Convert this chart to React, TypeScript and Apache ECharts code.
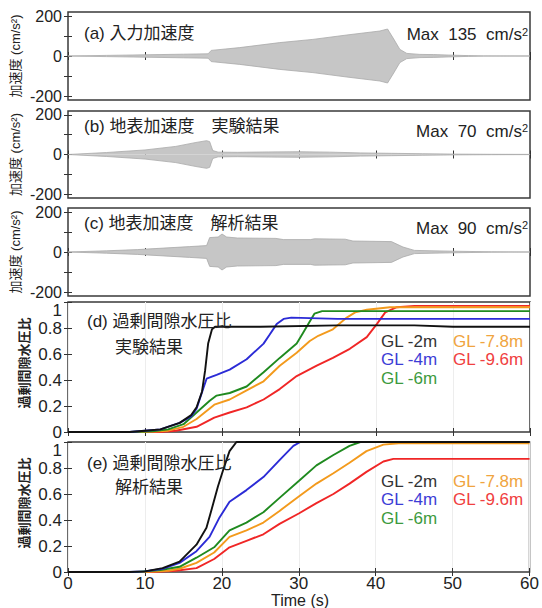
import React, { useEffect, useRef } from "react";
import * as echarts from "echarts";

// ---------- data ----------
const timeTicks = [0, 10, 20, 30, 40, 50, 60];
const accLabelTicks = [-200, 0, 200];
const accMinorTicks = [-200, -100, 0, 100, 200];
const ppTicks = [0, 0.2, 0.4, 0.6, 0.8, 1];

// (a) input acceleration envelope (cm/s^2)
const accATime = [0, 5, 10, 15, 18.2, 18.6, 22.3, 27.5, 31.8, 36.2, 40.5, 41.5, 42.3, 43.1, 44, 45.7, 47.5, 50, 52, 54, 60];
const accAEnv = [0, 3, 6, 9, 11, 28, 42, 67, 83, 105, 125, 135, 85, 33, 13, 8, 7, 4, 2, 0.5, 0];

// (b) ground surface acceleration, experiment
const accBTime = [0, 5, 10, 14, 16.5, 18, 18.4, 18.8, 19.5, 22, 26, 30, 34, 38, 42, 46, 50, 55, 60];
const accBEnv = [0, 10, 23, 41, 60, 70, 65, 20, 12, 11, 13, 14, 12, 8, 6, 4, 2, 1, 0.5];

// (c) ground surface acceleration, analysis
const accCTime = [0, 5, 9, 15.8, 18, 18.4, 19.5, 20, 20.6, 22, 27, 28, 31.5, 32, 36, 37, 42, 43.5, 45, 50, 55, 60];
const accCEnv = [0, 6, 12, 27, 32, 72, 75, 90, 75, 70, 68, 62, 62, 66, 64, 55, 52, 25, 8, 4, 1, 0];

// (d) excess pore water pressure ratio, experiment
const expGL2T = [0, 8, 10, 12, 14.5, 16, 16.7, 17.4, 17.8, 18.2, 18.7, 19.1, 25, 35, 45, 50, 60];
const expGL2V = [0, 0, 0.01, 0.02, 0.07, 0.13, 0.19, 0.31, 0.47, 0.68, 0.79, 0.81, 0.81, 0.82, 0.82, 0.81, 0.81];
const expGL4T = [0, 8, 10, 12, 14.5, 16, 16.7, 17.6, 18, 19.3, 21, 23.2, 25.4, 26.2, 27.1, 28, 29, 35, 45, 60];
const expGL4V = [0, 0, 0.01, 0.02, 0.07, 0.12, 0.18, 0.34, 0.41, 0.44, 0.48, 0.56, 0.68, 0.75, 0.83, 0.87, 0.88, 0.87, 0.87, 0.87];
const expGL6T = [0, 8, 11, 13, 15, 16.7, 18.4, 19.3, 21, 23.2, 25.4, 27.5, 29.7, 30.5, 31.3, 32, 33, 40, 60];
const expGL6V = [0, 0, 0.005, 0.02, 0.06, 0.15, 0.24, 0.28, 0.3, 0.35, 0.46, 0.57, 0.68, 0.76, 0.84, 0.91, 0.93, 0.93, 0.93];
const expGL78T = [0, 10, 13, 15, 16.7, 19, 21, 23.2, 25.4, 27.5, 29.7, 31.4, 32.5, 34.4, 36.2, 37.3, 38.8, 41.8, 60];
const expGL78V = [0, 0, 0.01, 0.04, 0.1, 0.21, 0.25, 0.32, 0.39, 0.51, 0.61, 0.7, 0.74, 0.79, 0.88, 0.92, 0.94, 0.96, 0.96];
const expGL96T = [0, 12, 14, 16.7, 19, 21, 23.2, 25.4, 27.5, 29.7, 32.3, 34.4, 36.6, 38.8, 40.1, 41.2, 42.7, 45, 60];
const expGL96V = [0, 0, 0.01, 0.04, 0.11, 0.15, 0.19, 0.25, 0.33, 0.43, 0.51, 0.57, 0.64, 0.73, 0.83, 0.92, 0.96, 0.97, 0.97];

// (e) excess pore water pressure ratio, analysis
const anaGL2T = [0, 8, 10, 12.3, 14.5, 16.7, 18, 18.9, 19.5, 20.2, 21, 21.9, 60];
const anaGL2V = [0, 0, 0.005, 0.03, 0.08, 0.21, 0.34, 0.53, 0.66, 0.79, 0.93, 1.0, 1.0];
const anaGL4T = [0, 8, 10, 12.3, 14.5, 16.7, 18.4, 19.7, 21, 23.2, 25.4, 27.5, 29.3, 30.2, 60];
const anaGL4V = [0, 0, 0.005, 0.025, 0.07, 0.16, 0.27, 0.42, 0.54, 0.63, 0.73, 0.86, 0.97, 1.0, 1.0];
const anaGL6T = [0, 9, 12, 14.5, 16.7, 19, 21, 23.2, 25.4, 27.5, 30, 32.3, 34.5, 36.6, 38, 60];
const anaGL6V = [0, 0, 0.015, 0.04, 0.11, 0.19, 0.32, 0.38, 0.46, 0.57, 0.7, 0.82, 0.9, 0.97, 1.0, 1.0];
const anaGL78T = [0, 10, 13, 14.5, 16.7, 19, 21, 23.2, 25.4, 27.5, 30, 32.3, 34.5, 36.6, 38.8, 41, 43, 60];
const anaGL78V = [0, 0, 0.01, 0.025, 0.07, 0.15, 0.27, 0.32, 0.38, 0.47, 0.58, 0.68, 0.76, 0.84, 0.93, 0.98, 0.99, 0.99];
const anaGL96T = [0, 11, 14, 16.7, 19, 21, 23.2, 25.4, 27.5, 30, 32.3, 34.5, 36.6, 38.8, 41, 42.3, 60];
const anaGL96V = [0, 0, 0.01, 0.03, 0.1, 0.19, 0.24, 0.29, 0.37, 0.45, 0.53, 0.6, 0.68, 0.77, 0.85, 0.87, 0.87];

const legendNames = ["GL -2m", "GL -4m", "GL -6m", "GL -7.8m", "GL -9.6m"];
const lineColors = ["#111111", "#2b2bd6", "#1f8a1f", "#f39a1c", "#f02626"];
const legendColors = ["#333333", "#3d3dd6", "#3d9a3d", "#f0a440", "#f04040"];

// ---------- layout ----------
const FONT = '"Liberation Sans", "Noto Sans CJK JP", Arial, sans-serif';
const LEFT = 68;
const WIDTH = 462;
const grids = [
  { top: 12, height: 88 },
  { top: 111, height: 87 },
  { top: 208, height: 88 },
  { top: 302, height: 130 },
  { top: 442, height: 130 },
];

const pairs = (t: number[], v: number[], sign = 1) => t.map((x, i) => [x, sign * v[i]]);

function envelopeSeries(idx: number, t: number[], env: number[]) {
  const base = {
    type: "line" as const,
    xAxisIndex: idx,
    yAxisIndex: idx,
    symbol: "none",
    silent: true,
    lineStyle: { color: "#a9a9a9", width: 0.8 },
    areaStyle: { color: "#c6c6c6", opacity: 1 },
    z: 2,
  };
  return [
    { ...base, data: pairs(t, env, 1) },
    { ...base, data: pairs(t, env, -1) },
  ];
}

function ppSeries(idx: number, curves: [number[], number[]][]) {
  const out: any[] = [];
  for (let k = curves.length - 1; k >= 0; k--) {
    out.push({
      type: "line",
      name: legendNames[k],
      xAxisIndex: idx,
      yAxisIndex: idx,
      symbol: "none",
      silent: true,
      lineStyle: { color: lineColors[k], width: 1.9 },
      data: pairs(curves[k][0], curves[k][1]),
      z: 3 + (curves.length - k),
    });
  }
  return out;
}

export default function App() {
  const ref = useRef<HTMLDivElement>(null);

  useEffect(() => {
    if (!ref.current) return;
    const chart = echarts.init(ref.current, undefined, { renderer: "svg" });

    const tickStyle = { show: true, inside: true, length: 4, lineStyle: { color: "#333", width: 1 } };
    const xAxes: any[] = [];
    const yAxes: any[] = [];
    grids.forEach((g, i) => {
      const isPP = i >= 3;
      const isLast = i === 4;
      xAxes.push({
        type: "value",
        gridIndex: i,
        min: timeTicks[0],
        max: timeTicks[timeTicks.length - 1],
        interval: 10,
        axisLine: { show: false },
        axisTick: tickStyle,
        axisLabel: {
          show: isLast,
          fontSize: 17,
          fontFamily: FONT,
          color: "#222",
          margin: 3,
        },
        splitLine: { show: isPP, lineStyle: { color: "#ededed", width: 1 } },
      });
      xAxes.push({
        type: "value",
        gridIndex: i,
        position: "top",
        min: 0,
        max: 60,
        interval: 10,
        axisLine: { show: false },
        axisTick: tickStyle,
        axisLabel: { show: false },
        splitLine: { show: false },
      });
      if (isPP) {
        yAxes.push({
          type: "value",
          gridIndex: i,
          min: 0,
          max: 1,
          interval: 0.2,
          axisLine: { show: false },
          axisTick: tickStyle,
          axisLabel: {
            fontSize: 17,
            fontFamily: FONT,
            color: "#222",
            margin: 6,
            formatter: (v: number) => (v >= 0.999 ? "" : String(Math.round(v * 10) / 10)),
          },
          splitLine: { show: false },
        });
        yAxes.push({
          type: "value",
          gridIndex: i,
          position: "right",
          min: 0,
          max: 1,
          interval: 0.2,
          axisLine: { show: false },
          axisTick: tickStyle,
          axisLabel: { show: false },
          splitLine: { show: false },
        });
      } else {
        yAxes.push({
          type: "value",
          gridIndex: i,
          min: -220,
          max: 220,
          axisLine: { show: false },
          axisTick: { ...tickStyle, customValues: accMinorTicks },
          axisLabel: {
            fontSize: 16,
            fontFamily: FONT,
            color: "#222",
            margin: 6,
            customValues: accLabelTicks,
          },
          splitLine: { show: false },
        });
        yAxes.push({
          type: "value",
          gridIndex: i,
          position: "right",
          min: -220,
          max: 220,
          axisLine: { show: false },
          axisTick: { ...tickStyle, customValues: accMinorTicks },
          axisLabel: { show: false, customValues: accLabelTicks },
          splitLine: { show: false },
        });
      }
    });

    const mainIdx = (i: number) => i * 2;
    const series: any[] = [];
    const envs: [number[], number[]][] = [
      [accATime, accAEnv],
      [accBTime, accBEnv],
      [accCTime, accCEnv],
    ];
    envs.forEach(([t, e], i) => {
      envelopeSeries(mainIdx(i), t, e).forEach((s) => series.push(s));
    });
    ppSeries(mainIdx(3), [
      [expGL2T, expGL2V],
      [expGL4T, expGL4V],
      [expGL6T, expGL6V],
      [expGL78T, expGL78V],
      [expGL96T, expGL96V],
    ]).forEach((s) => series.push(s));
    ppSeries(mainIdx(4), [
      [anaGL2T, anaGL2V],
      [anaGL4T, anaGL4V],
      [anaGL6T, anaGL6V],
      [anaGL78T, anaGL78V],
      [anaGL96T, anaGL96V],
    ]).forEach((s) => series.push(s));

    const txt = (x: number, y: number, text: string, size: number, opts: any = {}) => ({
      type: "text",
      x,
      y,
      rotation: opts.rotation || 0,
      silent: true,
      z: 100,
      style: {
        text,
        fontSize: size,
        fontFamily: FONT,
        fontWeight: opts.weight || "normal",
        fill: opts.color || "#222",
        textAlign: opts.align || "left",
        textVerticalAlign: "middle",
        rich: opts.rich,
      },
    });

    const graphics: any[] = [];
    const accTitles = ["(a) 入力加速度", "(b) 地表加速度　実験結果", "(c) 地表加速度　解析結果"];
    const titleY = [33, 126, 223];
    const maxVals = ["135", "70", "90"];
    const maxY = [34.5, 131, 228];
    const supRich = { sup: { fontSize: 11, fontFamily: FONT, fill: "#222", verticalAlign: "top", padding: [0, 0, 6, 0] } };
    for (let i = 0; i < 3; i++) {
      graphics.push(txt(84, titleY[i], accTitles[i], 17));
      graphics.push(
        txt(528, maxY[i], "Max  " + maxVals[i] + "  cm/s{sup|2}", 17, { align: "right", rich: supRich })
      );
      const cy = grids[i].top + grids[i].height / 2;
      graphics.push(txt(15, cy, "加速度 (cm/s²)", 13, { align: "center", rotation: Math.PI / 2 }));
    }
    const ppTitleY = [321, 463];
    const ppSubY = [347, 487];
    const ppSub = ["実験結果", "解析結果"];
    const ppTitle = ["(d) 過剰間隙水圧比", "(e) 過剰間隙水圧比"];
    const legRows = [
      [341, 359.5, 378],
      [481, 499.5, 518],
    ];
    const oneLabelY = [310, 450];
    for (let p = 0; p < 2; p++) {
      graphics.push(txt(87, ppTitleY[p], ppTitle[p], 17));
      graphics.push(txt(115, ppSubY[p], ppSub[p], 17));
      const g = grids[3 + p];
      graphics.push(
        txt(24, g.top + g.height / 2 - 4, "過剰間隙水圧比", 13, {
          align: "center",
          rotation: Math.PI / 2,
          weight: "bold",
        })
      );
      graphics.push(txt(62, oneLabelY[p], String(ppTicks[ppTicks.length - 1]), 17, { align: "right" }));
      const r = legRows[p];
      graphics.push(txt(381, r[0], legendNames[0], 17, { color: legendColors[0] }));
      graphics.push(txt(381, r[1], legendNames[1], 17, { color: legendColors[1] }));
      graphics.push(txt(381, r[2], legendNames[2], 17, { color: legendColors[2] }));
      graphics.push(txt(453, r[0], legendNames[3], 17, { color: legendColors[3] }));
      graphics.push(txt(453, r[1], legendNames[4], 17, { color: legendColors[4] }));
    }
    graphics.push(txt(300, 600.5, "Time (s)", 16, { align: "center" }));

    chart.setOption({
      animation: false,
      backgroundColor: "#ffffff",
      grid: grids.map((g) => ({
        left: LEFT,
        width: WIDTH,
        top: g.top,
        height: g.height,
        show: true,
        borderColor: "#3a3a3a",
        borderWidth: 1.5,
        backgroundColor: "transparent",
      })),
      xAxis: xAxes,
      yAxis: yAxes,
      series,
      graphic: graphics,
    });

    return () => chart.dispose();
  }, []);

  return (
    <div
      ref={ref}
      style={{ position: "fixed", left: 0, top: 0, width: 542, height: 608, background: "#fff" }}
    />
  );
}
